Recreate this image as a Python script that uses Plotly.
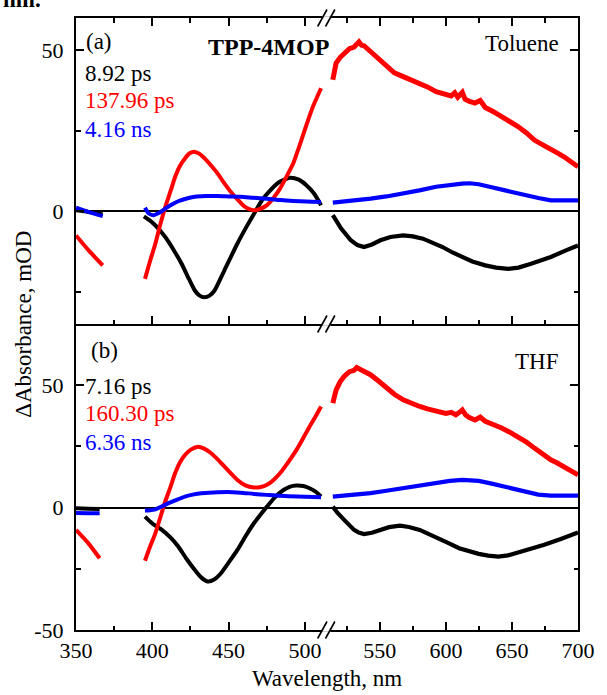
import plotly.graph_objects as go

# ---------------- data ----------------
# Panel (a) TPP-4MOP in Toluene
A_BLACK_S_NM = [350, 358, 367.5]
A_BLACK_S = [0.3, -0.2, -1.0]
A_BLACK_L_NM = [394.5, 400, 408.5, 414, 419.2, 424, 427.9, 431, 434.3, 437.5, 440.8, 447.2, 455.8,
                461.5, 467.6, 472, 477.3, 483, 490.2, 496, 501, 506, 510.6]
A_BLACK_L = [-1.6, -3.5, -8.0, -12, -16.3, -21, -24.6, -26.2, -26.7, -26.2, -24.6, -18.4, -10,
             -5, 0, 3.5, 6.5, 9, 10.4, 9.8, 8.1, 5.5, 1.9]
A_BLACK_R_NM = [514.4, 520.6, 528, 533, 538, 544, 550.4, 558, 567.7, 575, 582.6, 590, 597.5, 605,
                612.4, 620, 629.8, 638, 647.2, 655, 664.5, 672, 679.4, 690, 700]
A_BLACK_R = [-1.2, -5.3, -9, -10.5, -11.1, -10.3, -9, -8, -7.5, -7.8, -8.5, -9.8, -11.1, -12.8,
             -14.2, -15.6, -16.8, -17.5, -17.9, -17.5, -16.3, -15.3, -14.2, -12.3, -10.6]

A_RED_S_NM = [350, 358, 367.5]
A_RED_S = [-7.5, -12, -16.8]
A_RED_L_NM = [395.2, 398.5, 402, 405, 408.5, 412, 415, 418, 421.4, 424.5, 427.4, 431, 434.3, 438.5,
              442.9, 447, 451.5, 456, 460.1, 464, 467.6, 471, 475.2, 479.5, 483.8, 488, 492.4, 496,
              499.9, 505.3, 510.6]
A_RED_L = [-21, -15.5, -10.1, -4.5, 1.3, 6.3, 10.7, 14, 16.4, 18, 18.5, 17.8, 16.4, 14.2, 11.7,
           8.8, 6.0, 3.6, 1.6, 0.6, 0.3, 0.8, 1.9, 4.2, 7.1, 10.8, 14.9, 19.7, 25.2, 32.5, 38.2]
A_RED_R_NM = [514.4, 516.9, 520, 523, 527, 530.5, 532.5, 534.2, 536, 538, 542.9, 549, 555.4, 561,
              567.7, 574, 580.2, 586, 592.6, 600, 604, 606.7, 609, 612.4, 614.5, 617.4, 622, 626,
              629.8, 636, 642.2, 648, 654.6, 661, 667, 673, 679.4, 684, 689.4, 695, 700]
A_RED_R = [40.8, 46.0, 47.8, 49.1, 50.5, 51.0, 51.9, 52.6, 51.6, 51.4, 49.6, 47.2, 44.9, 43.0,
           41.8, 40.8, 39.7, 38.6, 37.1, 36.2, 35.8, 36.8, 35.4, 36.9, 34.8, 34.2, 33.6, 34.4,
           32.2, 30.9, 29.4, 28.0, 26.3, 24.3, 22.1, 20.7, 19.0, 18.2, 16.9, 15.5, 13.8]

A_BLUE_S_NM = [350, 358, 367.5]
A_BLUE_S = [1.1, -0.2, -1.5]
A_BLUE_L_NM = [395.2, 397.7, 401, 404.5, 408.5, 412.5, 417, 422, 427.9, 435, 442.9, 450, 457.9,
               466, 475.2, 483.8, 492.4, 501, 510.6]
A_BLUE_L = [1.1, -0.7, -1.2, -0.5, 0.8, 2.0, 3.1, 3.9, 4.5, 4.7, 4.7, 4.6, 4.5, 4.2, 3.9, 3.5,
            3.2, 3.0, 2.9]
A_BLUE_R_NM = [514.4, 530, 543, 555, 567.7, 580, 592.6, 603, 612.4, 618, 624.8, 633, 642.2, 650,
               659.6, 670, 679.4, 690, 700]
A_BLUE_R = [2.7, 3.3, 3.9, 4.6, 5.5, 6.5, 7.6, 8.2, 8.6, 8.7, 8.4, 7.6, 6.7, 5.8, 5.0, 4.1, 3.4,
            3.3, 3.4]

# Panel (b) THF
B_BLACK_S_NM = [350, 358, 365.5]
B_BLACK_S = [-0.3, -0.5, -0.6]
B_BLACK_L_NM = [395.2, 400, 406.3, 412, 417, 422.5, 427.9, 432, 436.5, 440.5, 445, 450, 455.8,
                461, 466.6, 471, 475.2, 480, 486, 490, 494.5, 499, 503.1, 507, 510.6]
B_BLACK_L = [-3.7, -6.5, -9.1, -12.3, -15.9, -21, -25.5, -28.5, -30.2, -29.4, -26.8, -22.5,
             -17.3, -11.8, -6.4, -2.8, 0.4, 4.0, 7.2, 8.5, 9.0, 8.8, 7.9, 6.5, 4.5]
B_BLACK_R_NM = [514.4, 518, 523, 526.5, 530.5, 534, 538, 544, 550.4, 557, 565.3, 572, 580.2, 587,
                595, 602, 610, 617, 624.8, 632, 639.7, 647, 654.6, 664, 674.5, 687, 700]
B_BLACK_R = [0.4, -2.2, -5.0, -7.2, -9.1, -10.2, -10.8, -10.3, -9.1, -8.0, -7.4, -7.9, -9.1,
             -10.7, -12.5, -14.5, -16.6, -17.9, -18.9, -19.6, -20.0, -19.5, -18.4, -16.8, -15.2,
             -12.8, -10.2]

B_RED_S_NM = [350, 358, 365.5]
B_RED_S = [-9.1, -14.5, -20.7]
B_RED_L_NM = [395.2, 398.5, 402, 405, 408.5, 412, 415, 418, 421.4, 425.5, 430, 434, 438.6, 443,
              447.2, 451.5, 455.8, 461, 466.6, 471, 475.2, 479.5, 483.8, 489, 494.5, 499, 503.1,
              507, 510.6]
B_RED_L = [-21.7, -16, -10.5, -4.5, 2.5, 8.6, 14.1, 18.3, 21.5, 23.8, 24.9, 24.1, 22.2, 19.6,
           16.8, 14.0, 11.3, 9.1, 8.2, 8.4, 9.3, 11.3, 14.1, 18.5, 23.6, 28.5, 33.1, 37.2, 41.3]
B_RED_R_NM = [514.4, 516.9, 520, 523, 527, 530.5, 532.5, 534.2, 536, 538, 542.9, 549, 555.4, 561,
              567.7, 574, 580.2, 586, 592.6, 600, 604, 607.5, 610, 612.4, 615, 617.4, 622, 626,
              629.8, 636, 642.2, 648, 654.6, 661, 667, 673, 679.4, 684, 689.4, 695, 700]
B_RED_R = [42.7, 48.1, 51.5, 53.6, 55.5, 56.1, 57.2, 56.8, 56.2, 56.0, 54.3, 51.7, 48.8, 46.3,
           44.0, 42.5, 41.3, 40.3, 39.2, 38.5, 38.9, 37.9, 38.8, 39.9, 37.8, 36.9, 35.8, 37.0,
           35.2, 34.0, 32.5, 30.9, 29.0, 26.8, 24.3, 21.9, 19.5, 18.3, 16.8, 15.1, 13.4]

B_BLUE_S_NM = [350, 358, 365.5]
B_BLUE_S = [-2.2, -2.3, -2.3]
B_BLUE_L_NM = [395.2, 398.5, 402, 406, 410.6, 416, 421.4, 426.5, 432.1, 440, 449.4, 458, 466.6,
               475, 483.8, 495, 510.6]
B_BLUE_L = [-1.2, -1.1, -0.7, 0.4, 1.8, 3.2, 4.5, 5.3, 5.9, 6.2, 6.4, 6.1, 5.6, 5.2, 4.8, 4.5, 4.2]
B_BLUE_R_NM = [514.4, 530, 543, 555, 567.7, 580, 592.6, 603, 612.4, 618, 624.8, 633, 642.2, 652,
               662, 670, 679.4, 690, 700]
B_BLUE_R = [4.5, 5.2, 5.9, 6.9, 7.9, 9.0, 10.2, 10.9, 11.3, 11.3, 10.9, 10.0, 8.9, 7.5, 6.1, 5.3,
            4.9, 4.9, 4.9]

LIFETIMES_A = ["8.92 ps", "137.96 ps", "4.16 ns"]
LIFETIMES_B = ["7.16 ps", "160.30 ps", "6.36 ns"]
SERIES_COLORS = ["#000000", "#ff0000", "#0000ff"]

X_TICKS_LEFT = [350, 400, 450, 500]
X_TICKS_RIGHT = [550, 600, 650, 700]
YA_TICKS = [0, 50]
YB_TICKS = [-50, 0, 50]

# ---------------- figure ----------------
FONT = "Liberation Serif, Times New Roman, serif"
W, H = 607, 695
ML, MR, MT, MB = 76, 21, 18, 65
PW, PH = W - ML - MR, H - MT - MB


def px(X):
    return (X - ML) / PW


def py(Y):
    return (H - MB - Y) / PH


fig = go.Figure()

panels = [
    ("x", "y", "x2", "y3",
     [(A_BLACK_S_NM, A_BLACK_S, A_BLACK_L_NM, A_BLACK_L, A_BLACK_R_NM, A_BLACK_R),
      (A_RED_S_NM, A_RED_S, A_RED_L_NM, A_RED_L, A_RED_R_NM, A_RED_R),
      (A_BLUE_S_NM, A_BLUE_S, A_BLUE_L_NM, A_BLUE_L, A_BLUE_R_NM, A_BLUE_R)]),
    ("x3", "y2", "x4", "y4",
     [(B_BLACK_S_NM, B_BLACK_S, B_BLACK_L_NM, B_BLACK_L, B_BLACK_R_NM, B_BLACK_R),
      (B_RED_S_NM, B_RED_S, B_RED_L_NM, B_RED_L, B_RED_R_NM, B_RED_R),
      (B_BLUE_S_NM, B_BLUE_S, B_BLUE_L_NM, B_BLUE_L, B_BLUE_R_NM, B_BLUE_R)]),
]

for xl, yl, xr, yr, series in panels:
    for (sn, sv, ln, lv, rn, rv), col in zip(series, SERIES_COLORS):
        smooth = dict(color=col, width=4, shape="spline", smoothing=0.6)
        right = dict(color=col, width=5 if col == "#ff0000" else 4.2)
        fig.add_trace(go.Scatter(x=sn, y=sv, xaxis=xl, yaxis=yl, mode="lines", line=smooth,
                                 showlegend=False, hoverinfo="skip"))
        fig.add_trace(go.Scatter(x=ln, y=lv, xaxis=xl, yaxis=yl, mode="lines", line=smooth,
                                 showlegend=False, hoverinfo="skip"))
        fig.add_trace(go.Scatter(x=rn, y=rv, xaxis=xr, yaxis=yr, mode="lines", line=right,
                                 showlegend=False, hoverinfo="skip"))

tickfont = dict(family=FONT, size=22, color="black")
base = dict(showline=True, linecolor="black", linewidth=2, ticks="inside", tickcolor="black",
            tickwidth=1.5, ticklen=8, showgrid=False, zeroline=False, tickfont=tickfont)
minor = dict(ticks="inside", ticklen=4.5, tickcolor="black", tickwidth=1.5, showgrid=False)


def xax(domain, rng, anchor, vals, mvals, labels, mirror):
    d = dict(base)
    d.update(domain=domain, range=rng, anchor=anchor, tickmode="array", tickvals=vals,
             ticktext=[str(v) for v in vals], showticklabels=labels, mirror=mirror,
             minor=dict(minor, tickvals=mvals))
    return d


def yax(domain, rng, anchor, vals, mvals, side, labels):
    d = dict(base)
    d.update(domain=domain, range=rng, anchor=anchor, side=side, tickmode="array", tickvals=vals,
             ticktext=[str(v) for v in vals], showticklabels=labels,
             minor=dict(minor, tickvals=mvals), zeroline=True, zerolinecolor="black",
             zerolinewidth=1.6, ticklabelstandoff=6)
    return d


fig.update_layout(
    width=W, height=H, margin=dict(l=ML, r=MR, t=MT, b=MB),
    paper_bgcolor="white", plot_bgcolor="rgba(0,0,0,0)", showlegend=False,
    xaxis=xax([0, 0.5], [350, 514.5], "y", X_TICKS_LEFT, [375, 425, 475], False, "ticks"),
    xaxis2=xax([0.5, 1], [510, 700], "y3", X_TICKS_RIGHT, [525, 575, 625, 675], False, "ticks"),
    xaxis3=xax([0, 0.5], [350, 514.5], "y2", X_TICKS_LEFT, [375, 425, 475], True, False),
    xaxis4=xax([0.5, 1], [510, 700], "y4", X_TICKS_RIGHT, [525, 575, 625, 675], True, False),
    yaxis=yax([0.5, 1], [-35, 60], "x", YA_TICKS, [-25, 25], "left", True),
    yaxis3=yax([0.5, 1], [-35, 60], "x2", YA_TICKS, [-25, 25], "right", False),
    yaxis2=yax([0, 0.5], [-50, 75], "x3", YB_TICKS, [-25, 25], "left", True),
    yaxis4=yax([0, 0.5], [-50, 75], "x4", YB_TICKS, [-25, 25], "right", False),
)


# text annotations (pixel positions converted to paper coords)
def txt(s, X, Y, color="black", size=23, xanchor="left", bold=False, angle=0):
    fig.add_annotation(text=f"<b>{s}</b>" if bold else s, x=px(X), y=py(Y), xref="paper",
                       yref="paper", xanchor=xanchor, yanchor="middle", showarrow=False,
                       textangle=angle, font=dict(family=FONT, size=size, color=color))


txt("(a)", 84, 42)
txt("TPP-4MOP", 272, 47, size=24, xanchor="center", bold=True)
txt("Toluene", 569, 44, xanchor="right")
for i, (s, c) in enumerate(zip(LIFETIMES_A, SERIES_COLORS)):
    txt(s, 83, 73 + 28 * i, color=c)

txt("(b)", 89, 350)
txt("THF", 568, 361, xanchor="right")
for i, (s, c) in enumerate(zip(LIFETIMES_B, SERIES_COLORS)):
    txt(s, 83, 386 + 28 * i, color=c)

txt("\u0394Absorbance, mOD", 22, 324, xanchor="center", angle=-90)
txt("Wavelength, nm", 331, 678, xanchor="center")
fig.add_annotation(text="<b>nm.</b>", x=px(42), y=py(14), xref="paper", yref="paper",
                   xanchor="right", yanchor="bottom", showarrow=False,
                   font=dict(family=FONT, size=23, color="black"))

# axis break markers "//"
for Yb in (MT, MT + PH / 2, MT + PH):
    fig.add_shape(type="rect", x0=px(326.0), x1=px(334.5), y0=py(Yb - 1.8), y1=py(Yb + 1.8),
                  xref="paper", yref="paper", fillcolor="white", line=dict(width=0),
                  layer="above")
    for X0 in (321.5, 329.5):
        fig.add_shape(type="line", x0=px(X0), y0=py(Yb + 8.5), x1=px(X0 + 9.5), y1=py(Yb - 8.5),
                      xref="paper", yref="paper", line=dict(color="black", width=1.6),
                      layer="above")

fig.write_html("out.html")
